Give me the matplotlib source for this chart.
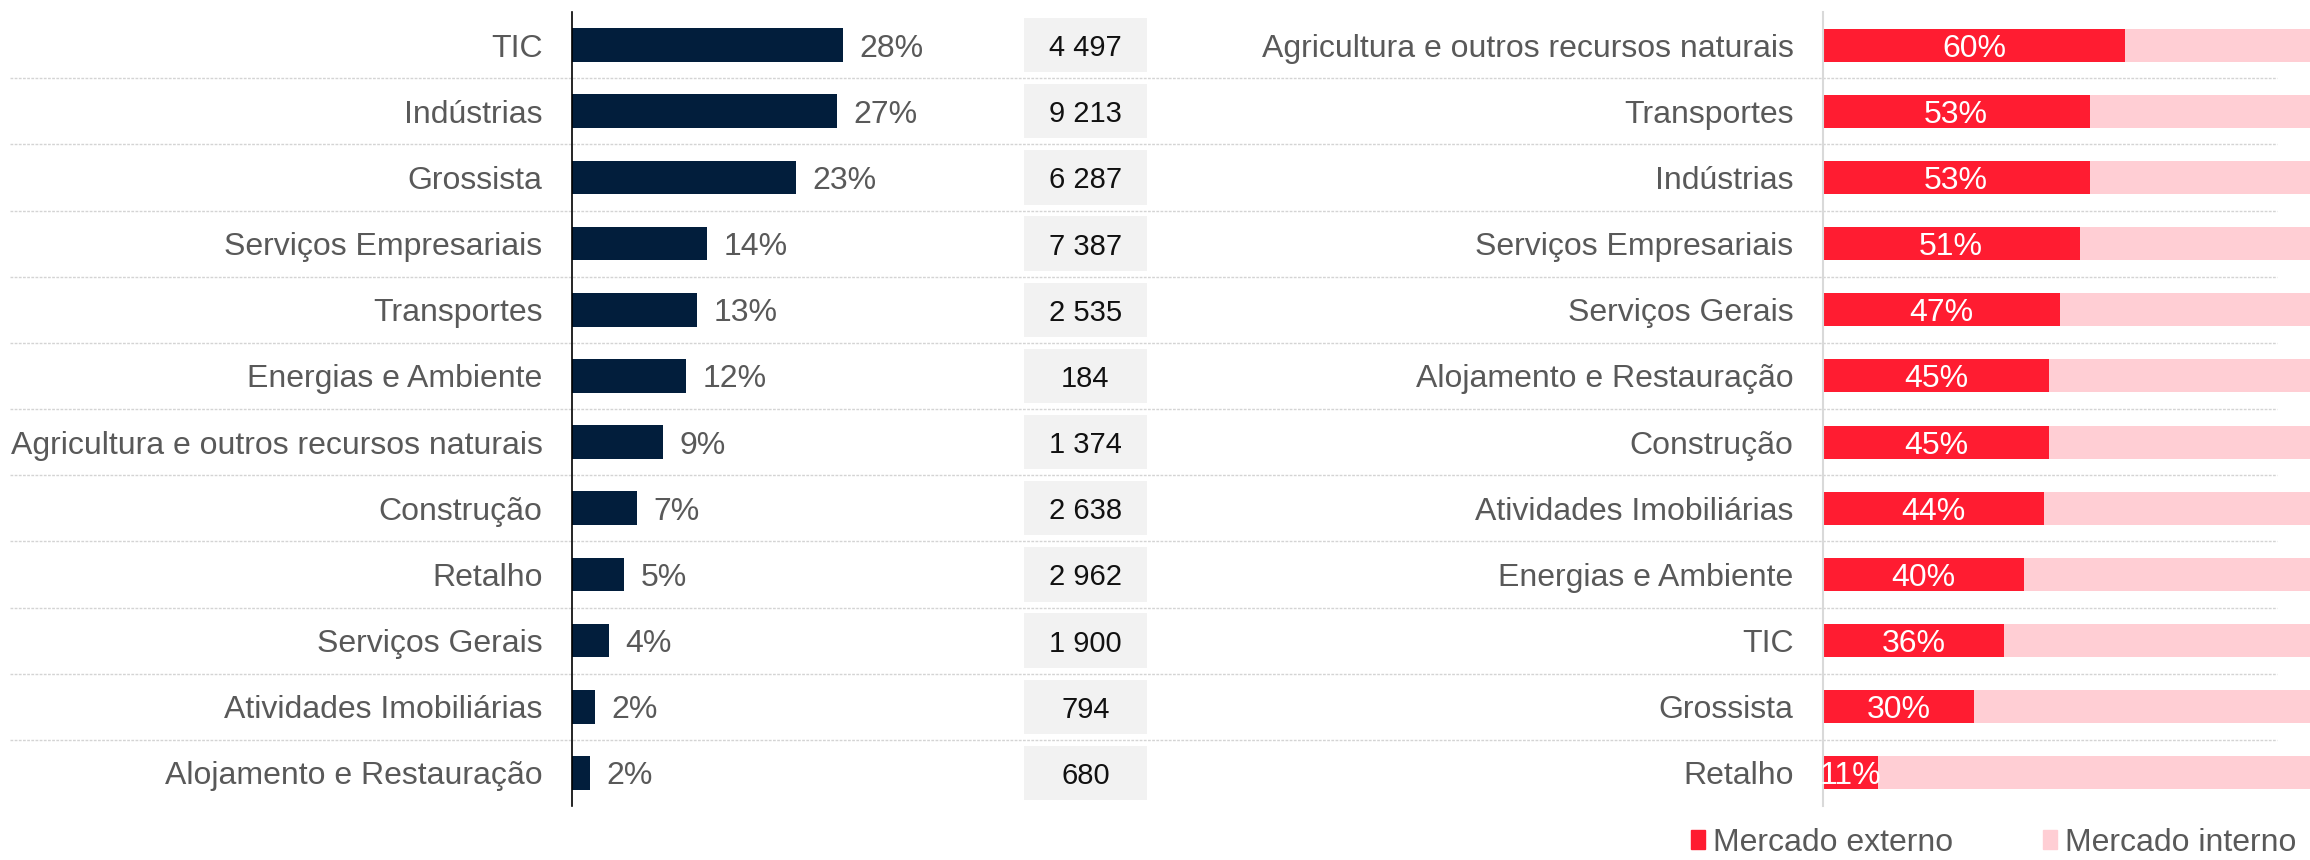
import matplotlib
matplotlib.use("Agg")
import matplotlib.pyplot as plt
from matplotlib.patches import Patch
from matplotlib.pyplot import rcParams

configs = {
    "font.family": ["Liberation Sans", "DejaVu Sans"],
    "font.size": 20,
    "axes.unicode_minus": False,
}
rcParams.update(configs)

# painel esquerdo: peso de cada setor e numero de empresas
left_sectors = [
    "TIC", "Indústrias", "Grossista", "Serviços Empresariais", "Transportes",
    "Energias e Ambiente", "Agricultura e outros recursos naturais", "Construção",
    "Retalho", "Serviços Gerais", "Atividades Imobiliárias", "Alojamento e Restauração",
]
left_share = [28.0, 27.4, 23.1, 14.0, 12.9, 11.8, 9.4, 6.7, 5.4, 3.8, 2.4, 1.9]
left_count = [4497, 9213, 6287, 7387, 2535, 184, 1374, 2638, 2962, 1900, 794, 680]

# painel direito: mercado externo vs interno
right_sectors = [
    "Agricultura e outros recursos naturais", "Transportes", "Indústrias",
    "Serviços Empresariais", "Serviços Gerais", "Alojamento e Restauração",
    "Construção", "Atividades Imobiliárias", "Energias e Ambiente", "TIC",
    "Grossista", "Retalho",
]
right_external = [60, 53, 53, 51, 47, 45, 45, 44, 40, 36, 30, 11]

NAVY = "#021E3C"
RED = "#FF1C31"
PINK = "#FFCED4"
TEXT = "#595959"
GRID = "#D4D4D4"

W, H = 2310, 860
fig = plt.figure(figsize=(W / 100, H / 100), dpi=100)

bottom = 1 - 806 / H
top = 1 - 12 / H
height = top - bottom
rows = list(range(len(left_sectors)))


def fx(px):
    return px / W


# linhas pontilhadas entre as linhas, atravessam toda a figura
ax_bg = fig.add_axes([0, bottom, 1, height])
ax_bg.set_xlim(0, 1)
ax_bg.set_ylim(len(rows) - 0.5, -0.5)
ax_bg.hlines([r + 0.5 for r in rows[:-1]], fx(10), fx(2277),
             color=GRID, linestyle=(0, (2, 1)), linewidth=1.0)
ax_bg.axis("off")

# --- painel esquerdo ---
ax1 = fig.add_axes([fx(571.7), bottom, fx(428.3), height])
ax1.patch.set_alpha(0)
bars = ax1.barh(rows, left_share, height=0.51, color=NAVY)
pct_left = ax1.bar_label(bars, labels=[f"{round(v)}%" for v in left_share],
                         padding=12, color=TEXT, fontsize=23)
for t in pct_left:
    t.set_va("center_baseline")
ax1.set_xlim(0, 44.2)
ax1.set_ylim(len(rows) - 0.5, -0.5)
ax1.set_yticks(rows)
ax1.set_yticklabels(left_sectors, fontsize=23, color=TEXT)
ax1.tick_params(axis="y", length=0, pad=21)
ax1.set_xticks([])
for side in ["top", "right", "bottom"]:
    ax1.spines[side].set_visible(False)
ax1.spines["left"].set_color("black")
ax1.spines["left"].set_linewidth(1.2)

# --- coluna de numeros ---
ax2 = fig.add_axes([fx(1024), bottom, fx(122.7), height])
ax2.patch.set_alpha(0)
ax2.barh(rows, [1] * len(rows), height=0.82, color="#F2F2F2")
for r, n in zip(rows, left_count):
    ax2.text(0.5, r, f"{n:,}".replace(",", " "), ha="center",
             va="center_baseline", fontsize=21, color="#111111")
ax2.set_xlim(0, 1)
ax2.set_ylim(len(rows) - 0.5, -0.5)
ax2.axis("off")

# --- painel direito ---
internal = [100 - v for v in right_external]
ax3 = fig.add_axes([fx(1822.7), bottom, 1 - fx(1822.7), height])
ax3.patch.set_alpha(0)
ext_bars = ax3.barh(rows, right_external, height=0.5, color=RED)
ax3.barh(rows, internal, left=right_external, height=0.5, color=PINK)
pct_right = ax3.bar_label(ext_bars, labels=[f"{v}%" for v in right_external],
                          label_type="center", color="white", fontsize=23)
for t in pct_right:
    t.set_va("center_baseline")
ax3.set_xlim(0, 96.7)
ax3.set_ylim(len(rows) - 0.5, -0.5)
ax3.set_yticks(rows)
ax3.set_yticklabels(right_sectors, fontsize=23, color=TEXT)
ax3.tick_params(axis="y", length=0, pad=21)
ax3.set_xticks([])
for side in ["top", "right", "bottom"]:
    ax3.spines[side].set_visible(False)
ax3.spines["left"].set_color("#D9D9D9")
ax3.spines["left"].set_linewidth(1.5)

handles = [Patch(color=RED), Patch(color=PINK)]
fig.legend(handles, ["Mercado externo", "Mercado interno"],
           loc="center left", bbox_to_anchor=(fx(1691), 1 - 843 / H),
           ncol=2, frameon=False, fontsize=23, labelcolor=TEXT,
           handlelength=0.45, handleheight=0.55, handletextpad=0.25,
           columnspacing=2.8, borderpad=0, borderaxespad=0)

fig.savefig("out.png", dpi=100)
